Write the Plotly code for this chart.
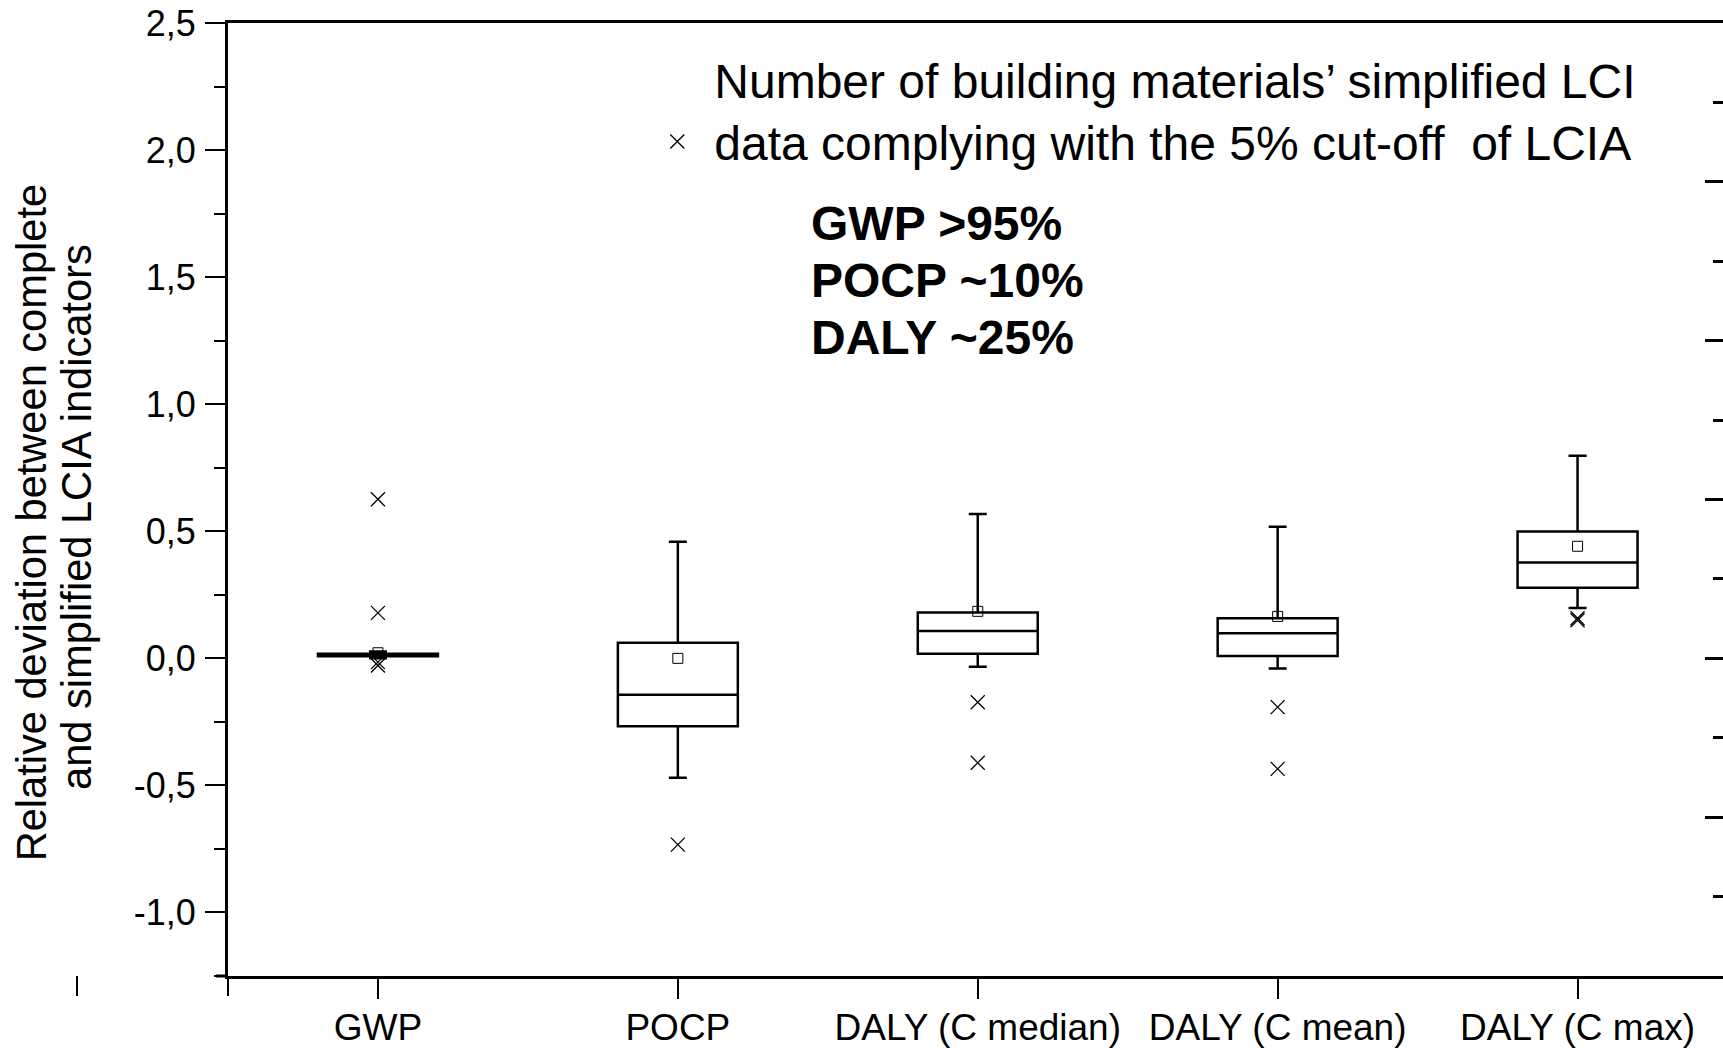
import plotly.graph_objects as go

# ---------------- data ----------------
categories = ["GWP", "POCP", "DALY (C median)", "DALY (C mean)", "DALY (C max)"]
q1 = [0.008, -0.267, 0.018, 0.009, 0.278]
median = [0.013, -0.143, 0.108, 0.099, 0.377]
q3 = [0.018, 0.061, 0.180, 0.158, 0.499]
lower_whisker = [0.000, -0.470, -0.033, -0.040, 0.198]
upper_whisker = [0.027, 0.459, 0.568, 0.518, 0.797]
means = [0.022, 0.000, 0.185, 0.165, 0.441]

outlier_cat = ["GWP", "GWP", "GWP", "GWP", "POCP",
               "DALY (C median)", "DALY (C median)",
               "DALY (C mean)", "DALY (C mean)",
               "DALY (C max)", "DALY (C max)"]
outlier_val = [0.626, 0.179, -0.015, -0.028, -0.733,
               -0.173, -0.411,
               -0.192, -0.435,
               0.150, 0.158]

y_tickvals = [-1.0, -0.5, 0.0, 0.5, 1.0, 1.5, 2.0, 2.5]
y_ticktext = ["-1,0", "-0,5", "0,0", "0,5", "1,0", "1,5", "2,0", "2,5"]

legend_text = ("Number of building materials\u2019 simplified LCI<br>"
               "data complying with the 5% cut-off  of LCIA")
share_lines = ["GWP >95%", "POCP ~10%", "DALY ~25%"]
ytitle_lines = ["Relative deviation between complete",
                "and simplified LCIA indicators"]

# ---------------- figure ----------------
FONT = "Arial, 'Liberation Sans', sans-serif"
W, H = 1723, 1048
L, R, T = 228, 0, 23
PLOT_BOTTOM = 981
B = H - PLOT_BOTTOM
PW, PH = W - L - R, PLOT_BOTTOM - T

fig = go.Figure()

fig.add_trace(go.Box(
    x=categories, q1=q1, median=median, q3=q3,
    lowerfence=lower_whisker, upperfence=upper_whisker,
    boxpoints=False, width=0.4, whiskerwidth=0.15,
    fillcolor="white", line=dict(color="black", width=2.5),
    showlegend=False, hoverinfo="skip",
))

fig.add_trace(go.Scatter(
    x=categories, y=means, mode="markers",
    marker=dict(symbol="square-open", size=10, color="black",
                line=dict(width=1, color="black")),
    showlegend=False,
))

fig.add_trace(go.Scatter(
    x=outlier_cat, y=outlier_val, mode="markers", name=legend_text,
    marker=dict(symbol="x-thin", size=14, color="black",
                line=dict(width=1.3, color="black")),
    showlegend=True,
))

# empty trace so that the secondary (right) axis with its ticks is drawn
fig.add_trace(go.Scatter(x=[], y=[], yaxis="y2", mode="markers",
                         showlegend=False, hoverinfo="skip"))


def px_x(sx):
    """screen x (px) -> paper x"""
    return (sx - L) / PW


def px_y(sy):
    """screen y (px) -> paper y"""
    return (PLOT_BOTTOM - sy) / PH


annotations = []
for txt, yc in zip(share_lines, [225, 282, 339]):
    annotations.append(dict(
        text="<b>" + txt + "</b>", xref="paper", yref="paper",
        x=px_x(808.5), y=px_y(yc), xanchor="left", yanchor="middle",
        showarrow=False, font=dict(family=FONT, size=48, color="black"),
    ))
for txt, xc, yc in zip(ytitle_lines, [31, 76.5], [526, 520]):
    annotations.append(dict(
        text=txt, xref="paper", yref="paper", textangle=-90,
        x=px_x(xc), y=px_y(yc), xanchor="center", yanchor="middle",
        showarrow=False, font=dict(family=FONT, size=41.6, color="black"),
    ))

shapes = [
    # y-axis line running a little below the x-axis
    dict(type="line", xref="paper", yref="paper",
         x0=0, x1=0, y0=0, y1=-20 / PH, line=dict(color="black", width=2)),
    # x-axis line running a little left of the y-axis
    dict(type="line", xref="paper", yref="paper",
         x0=px_x(216), x1=0, y0=0, y1=0, line=dict(color="black", width=3)),
    # stray category tick left of the frame
    dict(type="line", xref="paper", yref="paper",
         x0=px_x(77), x1=px_x(77), y0=0, y1=-20 / PH,
         line=dict(color="black", width=2)),
]

fig.update_layout(
    width=W, height=H,
    margin=dict(l=L, r=R, t=T, b=B, pad=0),
    paper_bgcolor="white", plot_bgcolor="white",
    font=dict(family=FONT, color="black"),
    showlegend=True,
    legend=dict(x=px_x(640.3), y=px_y(41.5), xanchor="left", yanchor="top",
                bgcolor="rgba(0,0,0,0)", font=dict(family=FONT, size=48),
                valign="bottom", itemwidth=64),
    xaxis=dict(
        range=[-0.5, 4.485], showgrid=False, zeroline=False,
        showline=True, linecolor="black", linewidth=3, mirror=True,
        ticks="outside", ticklen=20, tickwidth=2, tickcolor="black",
        tickfont=dict(family=FONT, size=37), ticklabelstandoff=-3,
    ),
    yaxis=dict(
        range=[-1.25, 2.5002], showgrid=False, zeroline=False,
        showline=True, linecolor="black", linewidth=3,
        ticks="outside", ticklen=20, tickwidth=2, tickcolor="black",
        tickvals=y_tickvals, ticktext=y_ticktext,
        tickfont=dict(family=FONT, size=36), ticklabelstandoff=2,
        minor=dict(ticks="outside", ticklen=11, tickwidth=2,
                   tickcolor="black", dtick=0.25, tick0=0, showgrid=False),
    ),
    yaxis2=dict(
        overlaying="y", side="right", range=[0, 6], showgrid=False,
        zeroline=False, showline=False, showticklabels=False,
        ticks="inside", ticklen=18, tickwidth=2.5, tickcolor="black",
        tickvals=[1, 2, 3, 4, 5],
        minor=dict(ticks="inside", ticklen=10, tickwidth=2.5,
                   tickcolor="black", tickvals=[0.5, 1.5, 2.5, 3.5, 4.5, 5.5],
                   showgrid=False),
    ),
    annotations=annotations,
    shapes=shapes,
)

fig.write_html(
    "out.html",
    config={"displayModeBar": False},
    post_script=("document.body.style.margin='0';"
                 "document.documentElement.style.overflow='hidden';"
                 "document.body.style.overflow='hidden';"
                 "var gd=document.getElementById('{plot_id}');"
                 "gd.style.position='fixed';gd.style.left='0px';"
                 "gd.style.top='0px';"
                 "var sx=window.innerWidth/%d, sy=window.innerHeight/%d;"
                 "if(sx>=1 && sy>=1){gd.style.transformOrigin='0 0';"
                 "gd.style.transform='scale('+sx+','+sy+')';}" % (W, H)),
)
